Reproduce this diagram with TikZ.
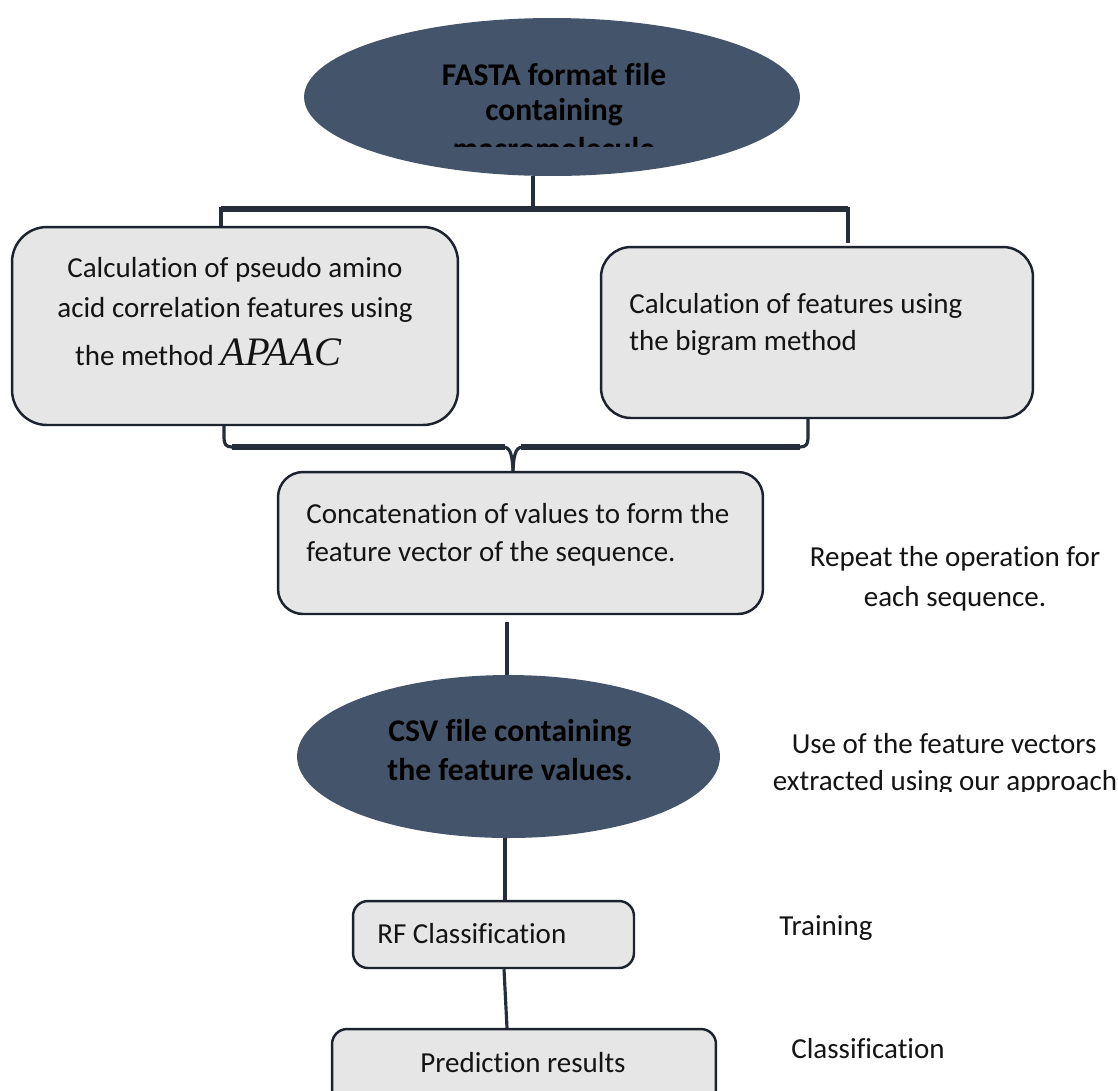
\documentclass[tikz,border=0pt]{standalone}
\usepackage{fontspec}
\setmainfont{Carlito}[RawFeature={-liga;-clig;-calt;-dlig}]
\newfontfamily\apaacfont{Liberation Serif}
\usetikzlibrary{shapes.geometric}
\definecolor{ellfill}{HTML}{44546A}
\definecolor{boxfill}{HTML}{E7E6E6}
\definecolor{bordercol}{HTML}{1C232E}
\definecolor{linecol}{HTML}{262E3A}
\definecolor{txtcol}{HTML}{141414}
\tikzset{
  darkell/.style={ellipse, fill=ellfill, draw=none, inner sep=0pt},
  procbox/.style={rectangle, rounded corners=#1, fill=boxfill, draw=bordercol, line width=1.4pt, inner sep=0pt},
  txt/.style={inner sep=0pt, text=txtcol, font=\fontsize{16.5pt}{20pt}\selectfont},
  btxt/.style={inner sep=0pt, text=black, font=\fontsize{18pt}{22pt}\selectfont\bfseries},
  conn/.style={draw=linecol, line width=1.8pt},
  hconn/.style={draw=linecol, line width=2.9pt},
}
\begin{document}
\begin{tikzpicture}[x=0.02cm, y=-0.02cm]
\useasboundingbox (0,0) rectangle (1118,1090);
\fill[white] (0,0) rectangle (1118,1090);
\clip (0,0) rectangle (1118,1090);

% ---- shapes ----
\node[darkell, minimum width=9.92cm, minimum height=3.16cm] (fasta) at (552,97) {};
\node[procbox=0.7cm, minimum width=8.92cm, minimum height=3.96cm] (apaac) at (235,326) {};
\node[procbox=0.6cm, minimum width=8.64cm, minimum height=3.42cm] (bigram) at (817,332.5) {};
\node[procbox=0.5cm, minimum width=9.70cm, minimum height=2.84cm] (concat) at (520.5,543) {};
\node[darkell, minimum width=8.46cm, minimum height=3.26cm] (csv) at (508.5,756.5) {};
\node[procbox=0.3cm, minimum width=5.62cm, minimum height=1.34cm] (rf) at (493.5,934.5) {};
\node[procbox=0.3cm, minimum width=7.68cm, minimum height=1.62cm] (pred) at (524,1069.5) {};

% ---- texts ----
\begin{scope}
\clip (300,0) rectangle (810,146);
\node[btxt, anchor=base] (f1) at (554,85) {FASTA format file};
\node[btxt, anchor=base] (f2) at (554,120) {containing};
\node[btxt, anchor=base] (f3) at (554,159) {macromolecule};
\end{scope}

\node[txt, anchor=base] (a1) at (235,277) {Calculation of pseudo amino};
\node[txt, anchor=base] (a2) at (235,317) {acid correlation features using};
\node[txt, anchor=base] (a3) at (208,365) {the method {\fontsize{23pt}{23pt}\selectfont\apaacfont\itshape APAAC}};

\node[txt, anchor=base west] (b1) at (629,313) {Calculation of features using};
\node[txt, anchor=base west] (b2) at (629,350) {the bigram method};

\node[txt, anchor=base west] (c1) at (306,523) {Concatenation of values to form the};
\node[txt, anchor=base west] (c2) at (306,561) {feature vector of the sequence.};

\node[btxt, anchor=base] (s1) at (510,741) {CSV file containing};
\node[btxt, anchor=base] (s2) at (510,780) {the feature values.};

\node[txt, anchor=base west] (r1) at (377,943) {RF Classification};
\node[txt, anchor=base] (p1) at (523,1072) {Prediction results};

\node[txt, anchor=base] (rep1) at (955,566) {Repeat the operation for};
\node[txt, anchor=base] (rep2) at (955,606) {each sequence.};

\node[txt, anchor=base] (use1) at (944,753) {Use of the feature vectors};
\begin{scope}
\clip (700,760) rectangle (1118,791);
\node[txt, anchor=base] (use2) at (945,790) {extracted using our approach};
\end{scope}

\node[txt, anchor=base west] (tr) at (779,935) {Training};
\node[txt, anchor=base west] (cl) at (791,1058) {Classification};

% ---- connectors ----
\coordinate (tb) at (533,209);
\coordinate (tbL) at (221,209);
\coordinate (tbR) at (848,209);
\coordinate (tbRe) at (848,243);
\draw[conn] (tb |- fasta.south) -- (tb);
\draw[conn, line join=miter] (tbL |- apaac.north) -- (tbL) -- (tbR) -- (tbRe);
\draw[hconn] (tbL) -- (tbR);

\coordinate (bL) at (224,447);
\coordinate (bR) at (808,447);
\coordinate (bM) at (513,447);
\draw[conn] (bL |- apaac.south) -- (224,438) .. controls (224,444) and (226,447) .. (232,447) -- (502,447)
  .. controls (509,447) and (512,450) .. (bM |- concat.north);
\draw[conn] (bR |- bigram.south) -- (808,438) .. controls (808,444) and (806,447) .. (800,447) -- (524,447)
  .. controls (517,447) and (514,450) .. (bM |- concat.north);
\draw[hconn] (232,447) -- (505,447);
\draw[hconn] (521,447) -- (800,447);

\coordinate (k0) at (507,622);
\draw[conn] (k0) -- (k0 |- csv.north);
\coordinate (k1) at (505,800);
\draw[conn] (k1 |- csv.south) -- (k1 |- rf.north);
\coordinate (k2) at (504,990);
\coordinate (k3) at (507,990);
\draw[conn] (k2 |- rf.south) -- (k3 |- pred.north);
\end{tikzpicture}
\end{document}
